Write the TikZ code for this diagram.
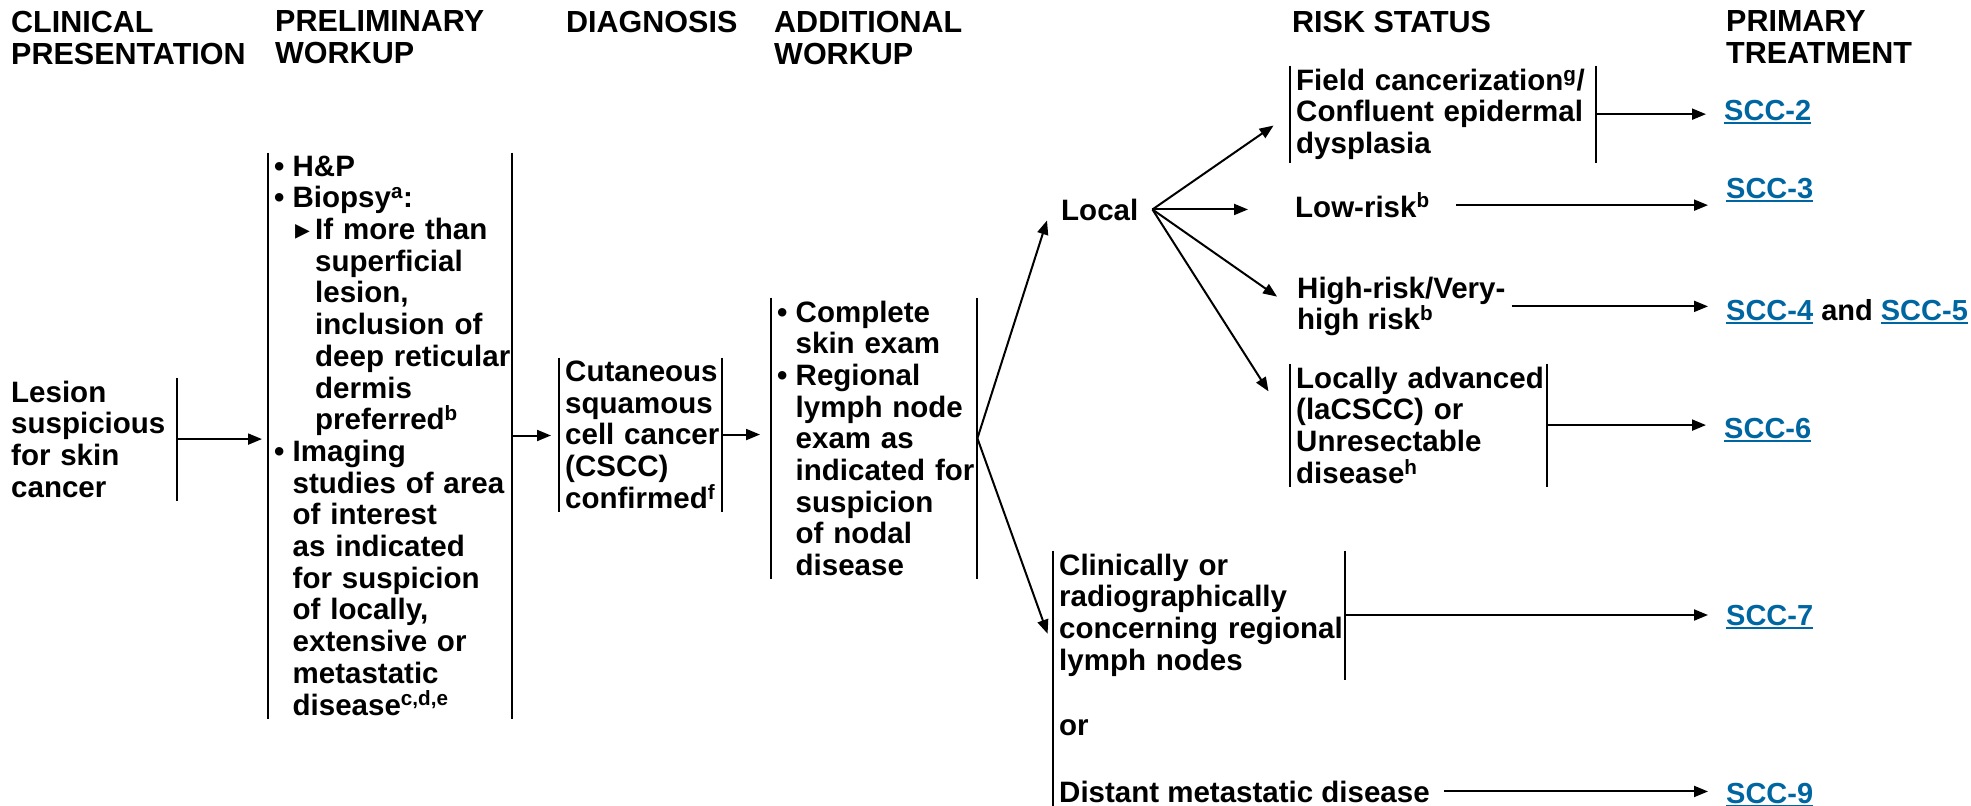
\documentclass[tikz,border=0pt]{standalone}
\usepackage{fontspec}
\setmainfont{Liberation Sans}
\newfontfamily\symfont{DejaVu Sans}
\usetikzlibrary{arrows.meta}
\definecolor{sccblue}{RGB}{0,102,161}
\newcommand{\scclink}[1]{{\color{sccblue}\setbox0=\hbox{#1}\rlap{\rule[-3.5pt]{\wd0}{2pt}}\box0}}
\newcommand{\bul}{\makebox[18.5pt][l]{•}}
\newcommand{\lvlone}{\hspace*{18.5pt}}
\newcommand{\lvltwo}{\hspace*{41pt}}
\newcommand{\subbul}{\hspace*{21pt}\makebox[20pt][l]{\symfont ▸}}
\newcommand{\nohy}{\hyphenpenalty=10000 \exhyphenpenalty=10000\relax}

\begin{document}
\begin{tikzpicture}[x=1pt,y=1pt]
					\tikzstyle{every node}+=[inner sep=0pt, font=\fontsize{29.5}{31.7}\selectfont\bfseries\nohy]
					\tikzstyle{head}=[anchor=north west, align=left, font=\fontsize{30.5}{32}\selectfont\bfseries]
					\tikzstyle{blk}=[anchor=north west, align=left, inner xsep=6pt, inner ysep=3pt]
					\tikzstyle{link}=[anchor=base west, font=\fontsize{29}{31.7}\selectfont\bfseries]
					\tikzstyle{bar}=[black, line width=2pt]
					\tikzstyle{arr}=[black, line width=2pt, -{Triangle[length=14pt,width=11pt]}]
					\tikzstyle{toscc}=[arr, shorten >=18pt]
					\useasboundingbox (0,0) rectangle (1971,-806);
					\coordinate (bot) at (0,-806);
					\node [head] (hclin) at (11,-10.8) {CLINICAL\\PRESENTATION};
					\node [head] (hprelim) at (275,-10.8) {PRELIMINARY\\WORKUP};
					\node [head] (hdiag) at (566,-10.8) {DIAGNOSIS};
					\node [head] (haddl) at (774,-10.8) {ADDITIONAL\\WORKUP};
					\node [head] (hrisk) at (1292,-10.8) {RISK STATUS};
					\node [head] (htreat) at (1726,-10.8) {PRIMARY\\TREATMENT};
					\node [blk, text width=160pt] (lesion) at (5,-377.5) {Lesion\\suspicious\\for skin\\cancer};
					\node [blk, text width=232pt] (prelim) at (268,-152.5) {\bul H\&P\\\bul Biopsy\textsuperscript{a}:\\\subbul If more than\\\lvltwo superficial\\\lvltwo lesion,\\\lvltwo inclusion of\\\lvltwo deep~reticular\\\lvltwo dermis\\\lvltwo preferred\textsuperscript{b}\\\bul Imaging\\\lvlone studies of area\\\lvlone of interest\\\lvlone as indicated\\\lvlone for suspicion\\\lvlone of locally,\\\lvlone extensive or\\\lvlone metastatic\\\lvlone disease\textsuperscript{c,d,e}};
					\node [blk, text width=151pt] (diag) at (559,-357.5) {Cutaneous\\squamous\\cell~cancer\\(CSCC)\\confirmed\textsuperscript{f}};
					\node [blk, text width=194pt] (addl) at (771,-297.5) {\bul Complete\\\lvlone skin exam\\\bul Regional\\\lvlone lymph node\\\lvlone exam as\\\lvlone indicated~for\\\lvlone suspicion\\\lvlone of nodal\\\lvlone disease};
					\node [anchor=base west, inner xsep=14pt] (local) at (1047,-220) {Local};
					\node [blk, text width=294pt] (field) at (1290,-65.5) {Field cancerization\textsuperscript{g}/\\Confluent epidermal\\dysplasia};
					\node [anchor=base west, inner xsep=6pt] (low) at (1289,-217) {Low-risk\textsuperscript{b}};
					\node [blk] (high) at (1291,-273.5) {High-risk/Very-\\high risk\textsuperscript{b}};
					\node [blk, text width=245pt] (adv) at (1290,-363.5) {Locally~advanced\\(laCSCC) or\\Unresectable\\disease\textsuperscript{h}};
					\node [blk, text width=280pt] (clin) at (1053,-550.5) {Clinically or\\radiographically\\concerning~regional\\lymph nodes};
					\node [anchor=base west, inner xsep=6pt] (or) at (1053,-735) {or};
					\node [anchor=base west, inner xsep=6pt] (distant) at (1053,-802) {Distant metastatic disease};
					\node [link] (scc2) at (1724,-120) {\scclink{SCC-2}};
					\node [link] (scc3) at (1726,-198) {\scclink{SCC-3}};
					\node [link] (scc45) at (1726,-320) {\scclink{SCC-4} and \scclink{SCC-5}};
					\node [link] (scc6) at (1724,-438) {\scclink{SCC-6}};
					\node [link] (scc7) at (1726,-625) {\scclink{SCC-7}};
					\node [link] (scc9) at (1726,-803) {\scclink{SCC-9}};
					\draw [bar] (lesion.north east) -- (lesion.south east);
					\foreach \n in {prelim,diag,addl,field,adv}
						\draw [bar] (\n.north west) -- (\n.south west) (\n.north east) -- (\n.south east);
					\draw [bar] (clin.north west) -- (clin.north west |- bot) (clin.north east) -- (clin.south east);
					\draw [arr, shorten >=6pt] (lesion.east) -- (lesion.east -| prelim.west);
					\draw [arr, shorten >=8pt] (prelim.east) -- (prelim.east -| diag.west);
					\draw [arr, shorten >=11pt] (diag.east) -- (diag.east -| addl.west);
					\draw [arr] (addl.east) -- (local.south west);
					\draw [arr, shorten >=16pt] (addl.east) -- (clin.193);
					\draw [arr, shorten >=20pt] (local.east) -- (field.west);
					\draw [arr, shorten >=41pt] (local.east) -- (local.east -| low.west);
					\draw [arr, shorten >=17pt] (local.east) -- (high.west);
					\draw [arr, shorten >=40pt] (local.east) -- (adv.west);
					\draw [toscc] (field.east) -- (field.east -| scc2.west);
					\draw [toscc, shorten <=20pt] (low.east) -- (low.east -| scc3.west);
					\draw [toscc] (high.east) -- (high.east -| scc45.west);
					\draw [toscc] (adv.east) -- (adv.east -| scc6.west);
					\draw [toscc] (clin.east) -- (clin.east -| scc7.west);
					\draw [toscc, shorten <=8pt] (distant.east) -- (distant.east -| scc9.west);
\end{tikzpicture}
\end{document}
